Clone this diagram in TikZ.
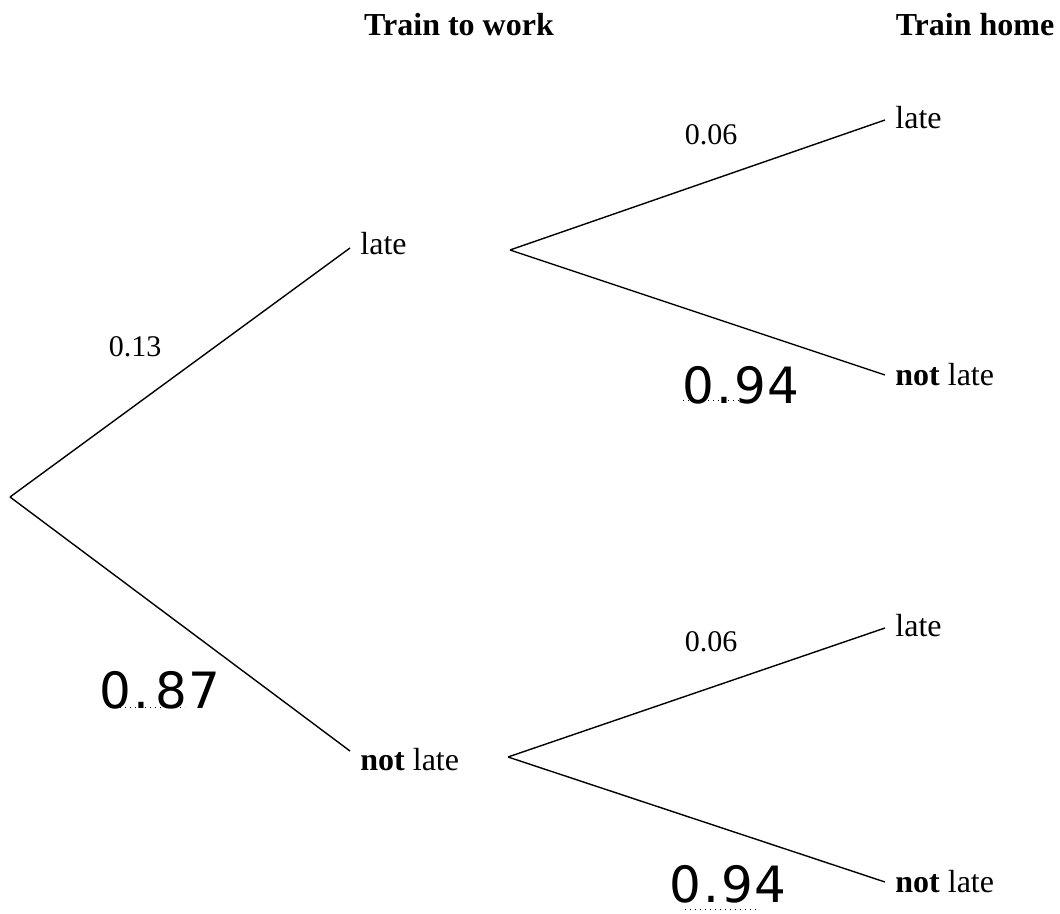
\documentclass[tikz,border=0pt]{standalone}
\usepackage{fontspec}
\setmainfont{Liberation Serif}
\newfontfamily\handfont{DejaVu Sans}
\usetikzlibrary{positioning}
\tikzset{
  branch/.style={black, line width=0.7pt},
  outcome/.style={anchor=west, inner sep=5pt, font=\fontsize{16}{19}\selectfont},
  prob/.style={inner sep=0pt, font=\fontsize{15}{18}\selectfont},
  heading/.style={inner sep=0pt, font=\fontsize{16}{19}\selectfont\bfseries},
  answer/.style={inner sep=0pt, font=\fontsize{25}{29}\selectfont\handfont},
  blank/.style={dotted, line width=0.5pt},
}
\begin{document}
\begin{tikzpicture}[x=0.5pt, y=-0.5pt]
\useasboundingbox (0,0) rectangle (1060,914);

% column headings
\node[heading] (hwork) at (459,25) {Train to work};
\node[heading] (hhome) at (975,25) {Train home};

% first branches
\coordinate (root) at (10,497);
\node[outcome] (wlate) at (350,244) {late};
\node[outcome] (wnot) at (350,760) {\textbf{not} late};
\draw[branch] (root) -- ([yshift=-2pt]wlate.west);
\draw[branch] (root) -- ([yshift=4.5pt]wnot.west);

% second branches
\coordinate (s1) at (510,250);
\coordinate (s2) at (508,757);
\node[outcome] (hlate1) at (885,118) {late};
\node[outcome] (hnot1) at (885,375) {\textbf{not} late};
\node[outcome] (hlate2) at (885,626) {late};
\node[outcome] (hnot2) at (885,882) {\textbf{not} late};
\draw[branch] (s1) -- ([yshift=-1pt]hlate1.west);
\draw[branch] (s1) -- (hnot1.west);
\draw[branch] (s2) -- ([yshift=-1pt]hlate2.west);
\draw[branch] (s2) -- (hnot2.west);

% probabilities
\node[prob] (p1) at (135,347) {0.13};
\node[prob] (p2) at (711,135) {0.06};
\node[prob] (p3) at (711,642) {0.06};

% written answers
\draw[blank] (110,707) -- (185,707);
\node[answer] (a1) at (160,690) {0\kern1pt.\kern3pt8\kern1pt7};
\draw[blank] (683,401) -- (757,401);
\node[answer] (a2) at (741,385) {0\kern1pt.\kern1pt9\kern1pt4};
\draw[blank] (685,909) -- (757,909);
\node[answer] (a3) at (728,884) {0\kern1pt.\kern1pt9\kern1pt4};
\end{tikzpicture}
\end{document}
